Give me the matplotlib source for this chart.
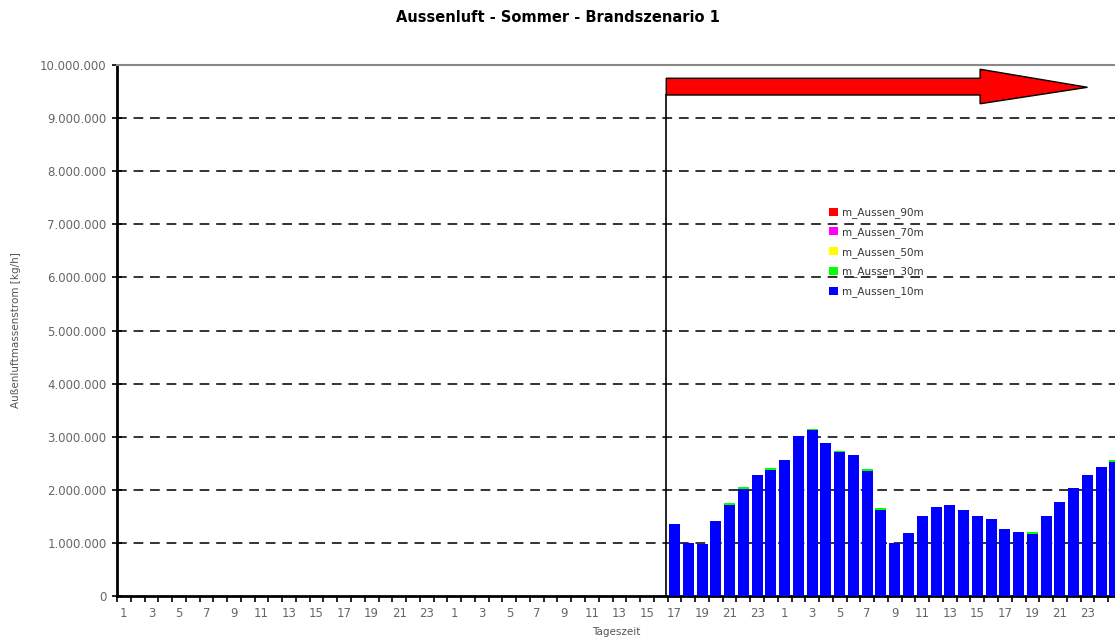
import matplotlib.pyplot as plt
from matplotlib.patches import Polygon
from matplotlib.ticker import FuncFormatter, MultipleLocator

# hour of day for every slot on the x axis (3 days + 1 hour, cut at the right edge)
hours = list(range(1, 25)) * 3 + [1]
start = 40  # first slot with data: day 2, 17 h

# outside air mass flow [kg/h], from day 2 17 h onwards
m_10m = [1350000, 1000000, 980000, 1410000, 1720000, 2020000, 2270000, 2380000,
         2560000, 3010000, 3120000, 2890000, 2710000, 2660000, 2360000, 1620000,
         1000000, 1180000, 1500000, 1680000, 1710000, 1620000, 1500000, 1450000,
         1270000, 1210000, 1170000, 1500000, 1770000, 2030000, 2270000, 2420000,
         2530000]
m_30m = [0, 0, 0, 0, 30000, 30000, 0, 30000,
         0, 0, 30000, 0, 30000, 0, 30000, 30000,
         0, 0, 0, 0, 0, 0, 0, 0,
         0, 0, 30000, 0, 0, 0, 0, 0,
         30000]
m_50m = [0] * len(m_10m)
m_70m = [0] * len(m_10m)
m_90m = [0] * len(m_10m)

series = [
    ("m_Aussen_10m", m_10m, "#0000ff"),
    ("m_Aussen_30m", m_30m, "#00ff00"),
    ("m_Aussen_50m", m_50m, "#ffff00"),
    ("m_Aussen_70m", m_70m, "#ff00ff"),
    ("m_Aussen_90m", m_90m, "#ff0000"),
]

fig = plt.figure(figsize=(11.15, 6.41), dpi=100)
ax = fig.add_axes([117 / 1115, 45 / 641, 1 - 117 / 1115, 531 / 641])

x = list(range(start, start + len(m_10m)))
bottom = [0] * len(m_10m)
handles = []
for name, vals, col in series:
    b = ax.bar(x, vals, width=0.8, bottom=bottom, color=col, label=name,
               linewidth=0, zorder=3)
    handles.append(b)
    bottom = [a + v for a, v in zip(bottom, vals)]

ax.set_xlim(-0.5, len(hours) - 1)
ax.set_ylim(0, 10000000)

# dashed grid lines
for y in range(1000000, 10000000, 1000000):
    ax.axhline(y, color="#333333", lw=1.4, ls=(0, (5, 3.5)), zorder=1)

# start of the fire: vertical line + red arrow
xs = start - 0.6
ax.plot([xs, xs], [0, 9435000], color="black", lw=1.2, zorder=4)
arrow = Polygon([(xs, 9435000), (xs, 9750000), (62.2, 9750000), (62.2, 9920000),
                 (70.0, 9580000), (62.2, 9270000), (62.2, 9435000)],
                closed=True, facecolor="#ff0000", edgecolor="black", lw=1.0, zorder=5)
ax.add_patch(arrow)

# axes styling
ax.spines["right"].set_visible(False)
ax.spines["top"].set_color("#888888")
ax.spines["top"].set_linewidth(1.5)
ax.spines["left"].set_linewidth(2)
ax.spines["bottom"].set_linewidth(2)

ax.yaxis.set_major_locator(MultipleLocator(1000000))
ax.yaxis.set_major_formatter(FuncFormatter(lambda v, p: f"{int(v):,}".replace(",", ".")))
ax.tick_params(axis="y", direction="inout", length=7, width=1.2,
               labelsize=8.5, labelcolor="#666666", pad=4)

# only odd hours get a label; the cut-off last slot stays blank
labels = [str(h) if h % 2 == 1 else "" for h in hours]
labels[-1] = ""
ax.set_xticks(range(len(hours)))
ax.set_xticklabels(labels)
ax.set_xticks([i - 0.5 for i in range(len(hours))], minor=True)
ax.tick_params(axis="x", which="major", length=0, labelsize=8.5,
               labelcolor="#666666", pad=8)
ax.tick_params(axis="x", which="minor", direction="out", length=4, width=1.2)

ax.set_xlabel("Tageszeit", fontsize=7.5, color="#555555", labelpad=5)
ax.set_ylabel("Außenluftmassenstrom [kg/h]", fontsize=7.5, color="#555555", labelpad=14)
fig.suptitle("Aussenluft - Sommer - Brandszenario 1", fontsize=10.5,
             fontweight="bold", y=0.985)

leg = ax.legend(handles[::-1], [s[0] for s in series][::-1], loc="upper left",
                bbox_to_anchor=(825 / 1115, 1 - 203 / 641),
                bbox_transform=fig.transFigure, frameon=False, fontsize=7.5,
                handlelength=0.8, handleheight=0.8, handletextpad=0.4,
                labelspacing=0.85, borderaxespad=0)
for t in leg.get_texts():
    t.set_color("#333333")

fig.savefig("out.png", dpi=100)
